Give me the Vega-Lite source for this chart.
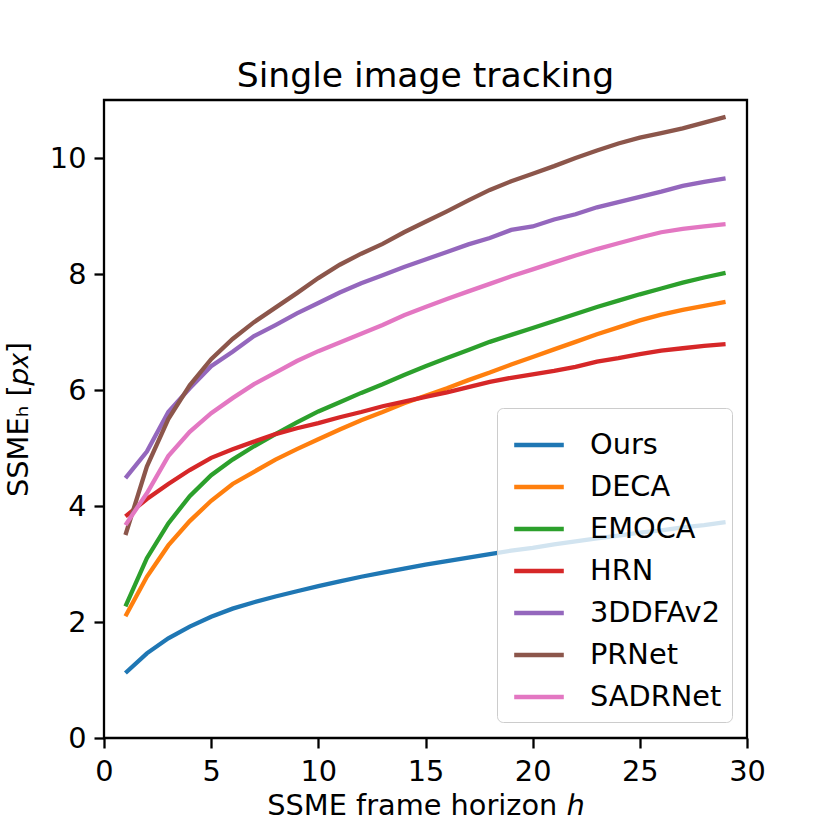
{
  "$schema": "https://vega.github.io/schema/vega-lite/v6.json",
  "width": 643,
  "height": 638,
  "autosize": {"type": "none"},
  "padding": {"left": 104, "top": 100, "right": 83, "bottom": 92},
  "background": "white",
  "config": {
    "font": "DejaVu Sans",
    "view": {"stroke": "black", "strokeWidth": 2.3}
  },
  "title": {"text": "Single image tracking", "fontSize": 34.6, "fontWeight": "normal", "color": "black", "offset": 5, "font": "DejaVu Sans"},
  "datasets": {
    "series": [
      {"m":"Ours","h":1,"v":1.12},{"m":"Ours","h":2,"v":1.46},{"m":"Ours","h":3,"v":1.72},{"m":"Ours","h":4,"v":1.92},{"m":"Ours","h":5,"v":2.09},{"m":"Ours","h":6,"v":2.23},{"m":"Ours","h":7,"v":2.34},{"m":"Ours","h":8,"v":2.44},{"m":"Ours","h":9,"v":2.53},{"m":"Ours","h":10,"v":2.62},{"m":"Ours","h":11,"v":2.70},{"m":"Ours","h":12,"v":2.78},{"m":"Ours","h":13,"v":2.85},{"m":"Ours","h":14,"v":2.92},{"m":"Ours","h":15,"v":2.99},{"m":"Ours","h":16,"v":3.05},{"m":"Ours","h":17,"v":3.11},{"m":"Ours","h":18,"v":3.17},{"m":"Ours","h":19,"v":3.23},{"m":"Ours","h":20,"v":3.28},{"m":"Ours","h":21,"v":3.34},{"m":"Ours","h":22,"v":3.39},{"m":"Ours","h":23,"v":3.44},{"m":"Ours","h":24,"v":3.49},{"m":"Ours","h":25,"v":3.54},{"m":"Ours","h":26,"v":3.58},{"m":"Ours","h":27,"v":3.63},{"m":"Ours","h":28,"v":3.67},{"m":"Ours","h":29,"v":3.72},
      {"m":"DECA","h":1,"v":2.10},{"m":"DECA","h":2,"v":2.78},{"m":"DECA","h":3,"v":3.32},{"m":"DECA","h":4,"v":3.74},{"m":"DECA","h":5,"v":4.09},{"m":"DECA","h":6,"v":4.38},{"m":"DECA","h":7,"v":4.59},{"m":"DECA","h":8,"v":4.80},{"m":"DECA","h":9,"v":4.98},{"m":"DECA","h":10,"v":5.15},{"m":"DECA","h":11,"v":5.32},{"m":"DECA","h":12,"v":5.48},{"m":"DECA","h":13,"v":5.62},{"m":"DECA","h":14,"v":5.77},{"m":"DECA","h":15,"v":5.90},{"m":"DECA","h":16,"v":6.03},{"m":"DECA","h":17,"v":6.17},{"m":"DECA","h":18,"v":6.30},{"m":"DECA","h":19,"v":6.44},{"m":"DECA","h":20,"v":6.57},{"m":"DECA","h":21,"v":6.70},{"m":"DECA","h":22,"v":6.83},{"m":"DECA","h":23,"v":6.96},{"m":"DECA","h":24,"v":7.08},{"m":"DECA","h":25,"v":7.20},{"m":"DECA","h":26,"v":7.30},{"m":"DECA","h":27,"v":7.38},{"m":"DECA","h":28,"v":7.45},{"m":"DECA","h":29,"v":7.52},
      {"m":"EMOCA","h":1,"v":2.27},{"m":"EMOCA","h":2,"v":3.10},{"m":"EMOCA","h":3,"v":3.70},{"m":"EMOCA","h":4,"v":4.17},{"m":"EMOCA","h":5,"v":4.53},{"m":"EMOCA","h":6,"v":4.80},{"m":"EMOCA","h":7,"v":5.03},{"m":"EMOCA","h":8,"v":5.24},{"m":"EMOCA","h":9,"v":5.44},{"m":"EMOCA","h":10,"v":5.63},{"m":"EMOCA","h":11,"v":5.79},{"m":"EMOCA","h":12,"v":5.95},{"m":"EMOCA","h":13,"v":6.10},{"m":"EMOCA","h":14,"v":6.26},{"m":"EMOCA","h":15,"v":6.41},{"m":"EMOCA","h":16,"v":6.55},{"m":"EMOCA","h":17,"v":6.69},{"m":"EMOCA","h":18,"v":6.83},{"m":"EMOCA","h":19,"v":6.95},{"m":"EMOCA","h":20,"v":7.07},{"m":"EMOCA","h":21,"v":7.19},{"m":"EMOCA","h":22,"v":7.31},{"m":"EMOCA","h":23,"v":7.43},{"m":"EMOCA","h":24,"v":7.54},{"m":"EMOCA","h":25,"v":7.65},{"m":"EMOCA","h":26,"v":7.75},{"m":"EMOCA","h":27,"v":7.85},{"m":"EMOCA","h":28,"v":7.94},{"m":"EMOCA","h":29,"v":8.02},
      {"m":"HRN","h":1,"v":3.82},{"m":"HRN","h":2,"v":4.12},{"m":"HRN","h":3,"v":4.38},{"m":"HRN","h":4,"v":4.62},{"m":"HRN","h":5,"v":4.83},{"m":"HRN","h":6,"v":4.98},{"m":"HRN","h":7,"v":5.11},{"m":"HRN","h":8,"v":5.24},{"m":"HRN","h":9,"v":5.34},{"m":"HRN","h":10,"v":5.43},{"m":"HRN","h":11,"v":5.53},{"m":"HRN","h":12,"v":5.62},{"m":"HRN","h":13,"v":5.72},{"m":"HRN","h":14,"v":5.80},{"m":"HRN","h":15,"v":5.88},{"m":"HRN","h":16,"v":5.96},{"m":"HRN","h":17,"v":6.05},{"m":"HRN","h":18,"v":6.14},{"m":"HRN","h":19,"v":6.21},{"m":"HRN","h":20,"v":6.27},{"m":"HRN","h":21,"v":6.33},{"m":"HRN","h":22,"v":6.40},{"m":"HRN","h":23,"v":6.49},{"m":"HRN","h":24,"v":6.55},{"m":"HRN","h":25,"v":6.62},{"m":"HRN","h":26,"v":6.68},{"m":"HRN","h":27,"v":6.72},{"m":"HRN","h":28,"v":6.76},{"m":"HRN","h":29,"v":6.79},
      {"m":"3DDFAv2","h":1,"v":4.48},{"m":"3DDFAv2","h":2,"v":4.94},{"m":"3DDFAv2","h":3,"v":5.62},{"m":"3DDFAv2","h":4,"v":6.03},{"m":"3DDFAv2","h":5,"v":6.41},{"m":"3DDFAv2","h":6,"v":6.66},{"m":"3DDFAv2","h":7,"v":6.93},{"m":"3DDFAv2","h":8,"v":7.12},{"m":"3DDFAv2","h":9,"v":7.32},{"m":"3DDFAv2","h":10,"v":7.50},{"m":"3DDFAv2","h":11,"v":7.68},{"m":"3DDFAv2","h":12,"v":7.84},{"m":"3DDFAv2","h":13,"v":7.98},{"m":"3DDFAv2","h":14,"v":8.12},{"m":"3DDFAv2","h":15,"v":8.25},{"m":"3DDFAv2","h":16,"v":8.38},{"m":"3DDFAv2","h":17,"v":8.51},{"m":"3DDFAv2","h":18,"v":8.62},{"m":"3DDFAv2","h":19,"v":8.76},{"m":"3DDFAv2","h":20,"v":8.82},{"m":"3DDFAv2","h":21,"v":8.94},{"m":"3DDFAv2","h":22,"v":9.03},{"m":"3DDFAv2","h":23,"v":9.15},{"m":"3DDFAv2","h":24,"v":9.24},{"m":"3DDFAv2","h":25,"v":9.33},{"m":"3DDFAv2","h":26,"v":9.42},{"m":"3DDFAv2","h":27,"v":9.52},{"m":"3DDFAv2","h":28,"v":9.59},{"m":"3DDFAv2","h":29,"v":9.65},
      {"m":"PRNet","h":1,"v":3.50},{"m":"PRNet","h":2,"v":4.68},{"m":"PRNet","h":3,"v":5.50},{"m":"PRNet","h":4,"v":6.08},{"m":"PRNet","h":5,"v":6.53},{"m":"PRNet","h":6,"v":6.88},{"m":"PRNet","h":7,"v":7.17},{"m":"PRNet","h":8,"v":7.42},{"m":"PRNet","h":9,"v":7.67},{"m":"PRNet","h":10,"v":7.93},{"m":"PRNet","h":11,"v":8.16},{"m":"PRNet","h":12,"v":8.35},{"m":"PRNet","h":13,"v":8.52},{"m":"PRNet","h":14,"v":8.72},{"m":"PRNet","h":15,"v":8.90},{"m":"PRNet","h":16,"v":9.08},{"m":"PRNet","h":17,"v":9.27},{"m":"PRNet","h":18,"v":9.45},{"m":"PRNet","h":19,"v":9.60},{"m":"PRNet","h":20,"v":9.73},{"m":"PRNet","h":21,"v":9.86},{"m":"PRNet","h":22,"v":10.00},{"m":"PRNet","h":23,"v":10.13},{"m":"PRNet","h":24,"v":10.25},{"m":"PRNet","h":25,"v":10.35},{"m":"PRNet","h":26,"v":10.43},{"m":"PRNet","h":27,"v":10.51},{"m":"PRNet","h":28,"v":10.61},{"m":"PRNet","h":29,"v":10.71},
      {"m":"SADRNet","h":1,"v":3.67},{"m":"SADRNet","h":2,"v":4.22},{"m":"SADRNet","h":3,"v":4.86},{"m":"SADRNet","h":4,"v":5.28},{"m":"SADRNet","h":5,"v":5.60},{"m":"SADRNet","h":6,"v":5.86},{"m":"SADRNet","h":7,"v":6.10},{"m":"SADRNet","h":8,"v":6.30},{"m":"SADRNet","h":9,"v":6.50},{"m":"SADRNet","h":10,"v":6.67},{"m":"SADRNet","h":11,"v":6.82},{"m":"SADRNet","h":12,"v":6.97},{"m":"SADRNet","h":13,"v":7.12},{"m":"SADRNet","h":14,"v":7.29},{"m":"SADRNet","h":15,"v":7.43},{"m":"SADRNet","h":16,"v":7.57},{"m":"SADRNet","h":17,"v":7.70},{"m":"SADRNet","h":18,"v":7.83},{"m":"SADRNet","h":19,"v":7.96},{"m":"SADRNet","h":20,"v":8.08},{"m":"SADRNet","h":21,"v":8.20},{"m":"SADRNet","h":22,"v":8.32},{"m":"SADRNet","h":23,"v":8.43},{"m":"SADRNet","h":24,"v":8.53},{"m":"SADRNet","h":25,"v":8.63},{"m":"SADRNet","h":26,"v":8.72},{"m":"SADRNet","h":27,"v":8.78},{"m":"SADRNet","h":28,"v":8.82},{"m":"SADRNet","h":29,"v":8.86}
    ]
  },
  "data": {"name": "series"},
  "mark": {"type": "line", "strokeWidth": 4.3, "clip": true},
  "encoding": {
    "x": {
      "field": "h", "type": "quantitative",
      "scale": {"domain": [0, 30], "nice": false, "zero": false},
      "axis": {
        "values": [0, 5, 10, 15, 20, 25, 30], "title": "SSME frame horizon ℎ",
        "grid": false, "domain": false, "tickColor": "black", "tickWidth": 2.3, "tickSize": 10,
        "labelFontSize": 28.8, "labelColor": "black", "labelPadding": 9, "labelFlush": false,
        "titleFontSize": 28.8, "titleFontWeight": "normal", "titleColor": "black", "titlePadding": 6
      }
    },
    "y": {
      "field": "v", "type": "quantitative",
      "scale": {"domain": [0, 11], "nice": false},
      "axis": {
        "values": [0, 2, 4, 6, 8, 10], "title": "SSMEₕ [𝑝𝑥]",
        "grid": false, "domain": false, "tickColor": "black", "tickWidth": 2.3, "tickSize": 10,
        "labelFontSize": 28.8, "labelColor": "black", "labelPadding": 8, "labelFlush": false,
        "titleFontSize": 28.8, "titleFontWeight": "normal", "titleColor": "black", "titlePadding": 16
      }
    },
    "color": {
      "field": "m", "type": "nominal",
      "sort": ["Ours", "DECA", "EMOCA", "HRN", "3DDFAv2", "PRNet", "SADRNet"],
      "scale": {
        "domain": ["Ours", "DECA", "EMOCA", "HRN", "3DDFAv2", "PRNet", "SADRNet"],
        "range": ["#1f77b4", "#ff7f0e", "#2ca02c", "#d62728", "#9467bd", "#8c564b", "#e377c2"]
      },
      "legend": {
        "orient": "none", "legendX": 393, "legendY": 308, "title": null,
        "symbolType": "stroke", "symbolSize": 2460, "symbolStrokeWidth": 4.3, "symbolOffset": 5,
        "labelFontSize": 28.8, "labelColor": "black", "labelOffset": 24, "rowPadding": 0,
        "padding": 10, "fillColor": "rgba(255,255,255,0.8)", "strokeColor": "#cccccc",
        "cornerRadius": 6
      }
    }
  }
}
